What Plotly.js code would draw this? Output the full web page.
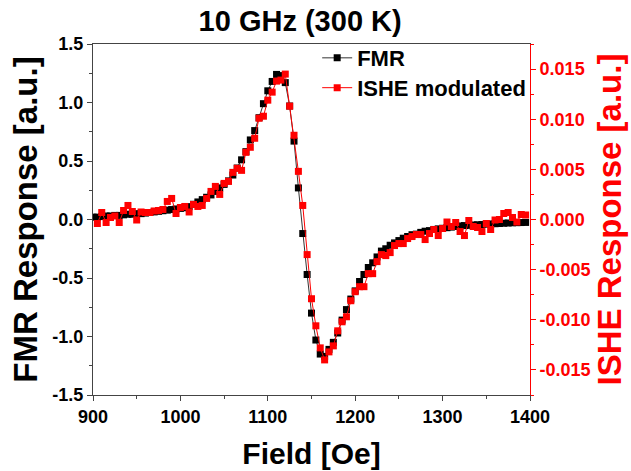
<!DOCTYPE html>
<html>
<head>
<meta charset="utf-8">
<script src="https://cdn.plot.ly/plotly-3.0.1.min.js"></script>
<style>html,body{margin:0;padding:0;background:#fff;}#chart{width:631px;height:471px;}</style>
</head>
<body>
<div id="chart"></div>
<script>
const field = [900,905,910,915,920,925,930,935,940,945,950,955,960,965,970,975,980,985,990,995,
1000,1005,1010,1015,1020,1025,1030,1035,1040,1045,1050,1055,1060,1065,1070,1075,1080,1085,1090,1095,
1100,1105,1110,1115,1120,1125,1130,1135,1140,1145,1150,1155,1160,1165,1170,1175,1180,1185,1190,1195,
1200,1205,1210,1215,1220,1225,1230,1235,1240,1245,1250,1255,1260,1265,1270,1275,1280,1285,1290,1295,
1300,1305,1310,1315,1320,1325,1330,1335,1340,1345,1350,1355,1360,1365,1370,1375,1380,1385,1390,1395];

const fmr = [0.02,0.02,0.025,0.03,0.03,0.035,0.035,0.04,0.045,0.045,0.05,0.05,0.055,0.06,0.065,0.07,0.075,0.08,0.085,0.09,
0.095,0.10,0.11,0.13,0.15,0.17,0.19,0.21,0.24,0.27,0.30,0.33,0.38,0.44,0.51,0.58,0.68,0.76,0.87,0.99,
1.10,1.18,1.24,1.23,1.17,0.97,0.67,0.27,-0.12,-0.47,-0.80,-1.03,-1.15,-1.17,-1.11,-1.05,-0.97,-0.86,-0.77,-0.68,
-0.61,-0.53,-0.47,-0.41,-0.37,-0.32,-0.27,-0.25,-0.22,-0.20,-0.18,-0.16,-0.145,-0.13,-0.125,-0.11,-0.10,-0.095,-0.085,-0.08,
-0.075,-0.07,-0.065,-0.06,-0.055,-0.052,-0.05,-0.047,-0.045,-0.043,-0.04,-0.038,-0.036,-0.034,-0.032,-0.03,-0.028,-0.027,-0.026,-0.025];

const ishe = [null,-0.0004,0.0007,-0.0003,0.0002,0.00035,-0.0003,0.0009,0.0014,0.0008,-0.00005,0.00075,0.0007,0.0007,0.00085,0.0009,0.001,0.0018,0.0021,0.0006,
0.0012,0.0013,0.00075,0.0015,0.0013,0.0014,0.0021,0.0028,0.0033,0.0025,0.0036,0.0038,0.0047,0.0051,0.0049,0.0067,0.0072,0.0081,0.0101,0.0103,
0.0119,0.0127,0.0138,0.0139,0.0145,0.0113,0.0084,0.0048,0.0014,-0.0035,-0.0079,-0.0106,-0.0128,-0.0140,-0.0132,-0.0126,-0.0111,-0.0102,-0.0097,-0.0081,
-0.0072,-0.0067,-0.0067,-0.0054,-0.0054,-0.0042,-0.0035,-0.0036,-0.0033,-0.0026,-0.0024,-0.0024,-0.0019,-0.0017,-0.0015,-0.0015,-0.0020,-0.0014,-0.0010,-0.0016,
-0.0009,-0.00025,-0.0007,-0.0003,-0.0012,-0.0016,-0.0001,-0.0007,-0.0008,-0.0012,-0.0004,-0.0010,-0.00005,0.0,0.0006,0.0007,0.0002,-0.00025,0.0005,0.00045];

const xTickVals = [900,1000,1100,1200,1300,1400];
const xTickText = ["900","1000","1100","1200","1300","1400"];
const leftTickVals = [-1.5,-1.0,-0.5,0.0,0.5,1.0,1.5];
const leftTickText = ["-1.5","-1.0","-0.5","0.0","0.5","1.0","1.5"];
const rightTickVals = [-0.015,-0.010,-0.005,0.0,0.005,0.010,0.015];
const rightTickText = ["-0.015","-0.010","-0.005","0.000","0.005","0.010","0.015"];

const bold = arr => arr.map(s => "<b>" + s + "</b>");
const F = "Liberation Sans, Arial, sans-serif";

const traces = [
  {x: field, y: fmr, name: "FMR", type: "scatter", mode: "lines+markers",
   line: {color: "#333", width: 1}, marker: {symbol: "square", size: 7, color: "#000"},
   xaxis: "x", yaxis: "y", legend: "legend"},
  {x: field, y: ishe, name: "ISHE modulated", type: "scatter", mode: "lines+markers",
   line: {color: "#ff0000", width: 1}, marker: {symbol: "square", size: 7, color: "#ff0000"},
   xaxis: "x", yaxis: "y2", legend: "legend2"}
];

const legFont = {family: F, size: 22, color: "#000", weight: "bold"};

const layout = {
  width: 631, height: 471,
  margin: {l: 93, r: 101, t: 44, b: 76},
  paper_bgcolor: "#fff", plot_bgcolor: "#fff",
  showlegend: true,
  title: {text: "10 GHz (300 K)", font: {family: F, size: 29, color: "#000", weight: "bold"},
          x: 0.474, xref: "paper", xanchor: "center", y: 0.955, yanchor: "middle"},
  xaxis: {range: [900, 1400], tickvals: xTickVals, ticktext: bold(xTickText), showgrid: false, zeroline: false,
          showline: true, linecolor: "#444", linewidth: 1, mirror: true,
          ticks: "outside", ticklen: 5, tickcolor: "#444",
          minor: {ticks: "outside", ticklen: 3, dtick: 50, tick0: 900, tickcolor: "#444"},
          tickfont: {family: F, size: 18, color: "#000"},
          title: {text: "Field [Oe]", font: {family: F, size: 30, color: "#000", weight: "bold"}, standoff: 17}},
  xaxis2: {range: [900, 1400], overlaying: "x", side: "top", dtick: 100, tick0: 900,
           showgrid: false, zeroline: false, showticklabels: false, showline: false,
           ticks: "inside", ticklen: 5, tickcolor: "#444",
           minor: {ticks: "inside", ticklen: 3, dtick: 50, tickcolor: "#444"}},
  yaxis: {range: [-1.5, 1.5], tickvals: leftTickVals, ticktext: bold(leftTickText),
          showgrid: false, zeroline: false, showline: true, linecolor: "#444", linewidth: 1,
          ticks: "outside", ticklen: 5, tickcolor: "#444",
          minor: {ticks: "outside", ticklen: 3, dtick: 0.25, tick0: 0, tickcolor: "#444"},
          tickfont: {family: F, size: 18, color: "#000"},
          title: {text: "FMR Response [a.u.]", font: {family: F, size: 33, color: "#000", weight: "bold"}, standoff: 4}},
  yaxis2: {range: [-0.0175, 0.0175], overlaying: "y", side: "right", anchor: "x",
           tickvals: rightTickVals, ticktext: bold(rightTickText),
           showgrid: false, zeroline: false, showline: true, linecolor: "#ff0000", linewidth: 1,
           ticks: "outside", ticklen: 5, tickcolor: "#ff0000",
           minor: {ticks: "outside", ticklen: 3, dtick: 0.0025, tick0: 0, tickcolor: "#ff0000"},
           tickfont: {family: F, size: 18, color: "#ff0000"},
           title: {text: "ISHE Response [a.u.]", font: {family: F, size: 33, color: "#ff0000", weight: "bold"}, standoff: 4}},
  legend: {x: 0.513, y: 0.96, xanchor: "left", yanchor: "middle", bgcolor: "rgba(0,0,0,0)",
           borderwidth: 0, font: legFont},
  legend2: {x: 0.513, y: 0.875, xanchor: "left", yanchor: "middle", bgcolor: "rgba(0,0,0,0)",
           borderwidth: 0, font: legFont}
};

Plotly.newPlot("chart", traces, layout, {displayModeBar: false, staticPlot: true});
</script>
</body>
</html>
